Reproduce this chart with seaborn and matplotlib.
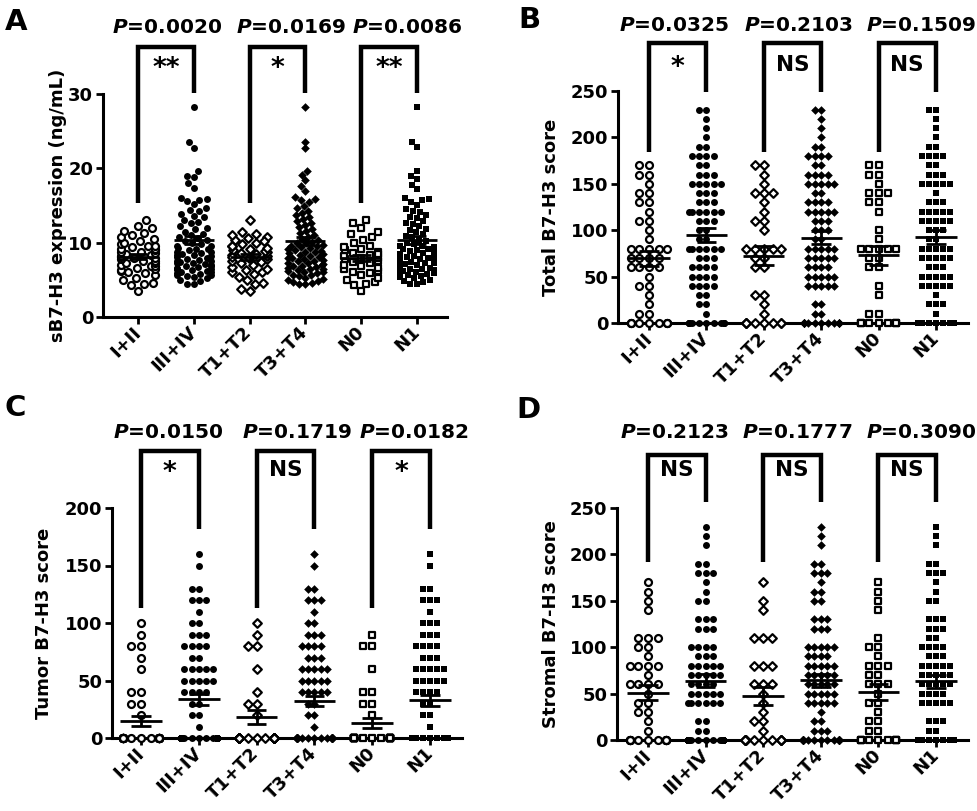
## Manage imports
import warnings

warnings.filterwarnings('ignore')

import numpy as np
import pandas as pd
import matplotlib as mpl

mpl.use('Agg')
import matplotlib.pyplot as plt
import seaborn as sns
from matplotlib.transforms import blended_transform_factory

## Data
groups = ['I+II', 'III+IV', 'T1+T2', 'T3+T4', 'N0', 'N1']

# A: serum sB7-H3 (ng/mL), one value per patient
a_I_II = [3.5, 4.3, 4.5, 4.6, 5.0, 5.3, 5.6, 5.9, 6.0, 6.2, 6.3, 6.5, 6.6, 6.8, 6.9, 7.0,
          7.2, 7.3, 7.5, 7.6, 7.8, 7.9, 8.0, 8.1, 8.2, 8.3, 8.5, 8.6, 8.7, 8.8, 9.0, 9.1,
          9.2, 9.4, 9.5, 9.6, 9.8, 10.0, 10.2, 10.5, 10.7, 11.0, 11.3, 11.6, 12.0, 12.3, 13.0]
a_III_IV = [28.2, 23.5, 22.8, 19.6, 19.0, 18.8, 18.0, 17.4, 16.0, 15.9, 15.8, 15.6, 15.2, 14.6,
            14.4, 14.2, 13.8, 13.6, 13.4, 13.0, 12.8, 12.6, 12.2, 12.0, 11.8, 11.5, 11.2, 11.0,
            10.8, 10.6, 10.4, 10.2, 10.0, 9.8, 9.6, 9.5, 9.3, 9.1, 9.0, 8.8, 8.6, 8.5, 8.3, 8.1,
            8.0, 7.8, 7.6, 7.4, 7.2, 7.0, 6.8, 6.6, 6.4, 6.2, 6.0, 5.8, 5.6, 5.4, 5.0, 4.8, 4.5,
            4.4, 6.1, 6.5, 7.1, 5.2, 5.5, 5.9, 6.3, 6.7, 6.9, 7.3, 7.7, 8.2, 8.7, 5.7, 6.4, 7.5,
            8.4, 9.2]
a_T1_T2 = [3.5, 3.8, 4.4, 4.6, 5.0, 5.4, 5.8, 6.0, 6.1, 6.3, 6.5, 6.7, 7.0, 7.2, 7.4, 7.6, 7.8,
           8.0, 8.2, 8.3, 8.5, 8.7, 8.9, 9.0, 9.2, 9.5, 9.8, 10.0, 10.4, 10.8, 11.0, 11.4, 13.0,
           8.1, 9.6, 10.2, 11.2, 8.6, 9.3, 10.6]
a_T3_T4 = [28.2, 23.6, 22.7, 19.6, 19.1, 18.4, 17.6, 17.0, 16.1, 15.9, 15.7, 15.5, 15.0, 14.6,
           14.3, 14.0, 13.7, 13.5, 13.2, 12.9, 12.7, 12.4, 12.1, 11.9, 11.6, 11.3, 11.0, 10.8,
           10.5, 10.3, 10.1, 9.9, 9.7, 9.5, 9.3, 9.1, 8.9, 8.7, 8.5, 8.4, 8.2, 8.0, 7.9, 7.7,
           7.5, 7.3, 7.1, 6.9, 6.7, 6.5, 6.3, 6.1, 5.9, 5.7, 5.5, 5.3, 5.1, 4.9, 4.7, 4.5, 4.4,
           6.0, 6.4, 6.8, 7.2, 7.6, 8.1, 8.6, 9.0, 9.6, 5.6, 6.2, 7.0, 7.8, 8.8, 9.4, 10.0, 4.6,
           5.0, 6.6]
a_N0 = [3.5, 4.3, 4.5, 4.7, 5.2, 5.6, 5.9, 6.0, 6.2, 6.5, 6.8, 7.0, 7.2, 7.4, 7.6, 7.8, 8.0,
        8.2, 8.4, 8.6, 8.8, 9.0, 9.2, 9.4, 9.6, 10.0, 10.4, 10.8, 11.1, 11.4, 12.0, 12.6, 13.0,
        5.0, 6.6, 7.9, 8.5]
a_N1 = [28.2, 23.5, 22.9, 19.6, 19.0, 18.6, 17.8, 17.2, 16.0, 15.9, 15.7, 15.5, 15.1, 14.5,
        14.3, 14.1, 13.7, 13.5, 13.3, 12.9, 12.7, 12.5, 12.2, 11.9, 11.7, 11.4, 11.1, 10.9,
        10.7, 10.4, 10.2, 10.0, 9.8, 9.6, 9.4, 9.2, 9.0, 8.8, 8.6, 8.4, 8.2, 8.0, 7.8, 7.6,
        7.4, 7.2, 7.0, 6.8, 6.6, 6.4, 6.2, 6.0, 5.8, 5.6, 5.4, 5.2, 5.0, 4.8, 4.5, 4.4, 6.1,
        6.5, 7.1, 7.5, 8.1, 8.5, 9.1, 9.5, 5.5, 6.3, 6.9, 7.7, 8.3, 8.9, 4.7, 5.9, 7.3]

# B-D: IHC scores take discrete levels; counts of patients at each level
b_levels = [0, 10, 20, 30, 40, 50, 60, 70, 80, 90, 100, 110, 120, 130, 140, 150,
            160, 170, 180, 190, 200, 210, 220, 230]
b_counts = [
    [9, 2, 1, 1, 2, 1, 4, 4, 5, 1, 1, 2, 1, 2, 2, 1, 2, 2, 0, 0, 0, 0, 0, 0],
    [12, 1, 2, 2, 4, 4, 4, 3, 6, 2, 2, 3, 6, 3, 3, 5, 3, 2, 4, 2, 1, 1, 1, 2],
    [8, 1, 1, 2, 0, 0, 2, 2, 5, 0, 1, 2, 1, 1, 3, 1, 1, 2, 0, 0, 0, 0, 0, 0],
    [14, 2, 2, 0, 5, 5, 4, 5, 5, 2, 3, 3, 5, 4, 2, 5, 4, 2, 4, 2, 1, 1, 1, 2],
    [9, 2, 0, 1, 1, 0, 2, 2, 5, 1, 1, 0, 1, 2, 3, 1, 2, 2, 0, 0, 0, 0, 0, 0],
    [12, 1, 3, 1, 5, 5, 3, 5, 5, 2, 3, 5, 5, 3, 1, 5, 3, 2, 4, 2, 1, 1, 1, 2],
]
c_levels = [0, 10, 20, 30, 40, 50, 60, 70, 80, 90, 100, 110, 120, 130, 140, 150, 160]
c_counts = [
    [32, 0, 1, 2, 2, 0, 1, 1, 2, 1, 1, 0, 0, 0, 0, 0, 0],
    [45, 1, 2, 2, 4, 5, 5, 2, 4, 3, 2, 1, 3, 2, 0, 1, 1],
    [20, 0, 1, 2, 1, 0, 1, 0, 2, 1, 1, 0, 0, 0, 0, 0, 0],
    [50, 1, 2, 2, 5, 5, 5, 3, 4, 3, 2, 1, 3, 2, 0, 1, 1],
    [27, 0, 1, 2, 2, 0, 1, 0, 2, 1, 0, 0, 0, 0, 0, 0, 0],
    [50, 1, 2, 2, 4, 5, 5, 3, 4, 3, 3, 1, 3, 2, 0, 1, 1],
]
d_levels = b_levels
d_counts = [
    [15, 1, 1, 2, 2, 1, 4, 1, 4, 1, 2, 3, 0, 0, 1, 1, 1, 1, 0, 0, 0, 0, 0, 0],
    [27, 2, 2, 0, 6, 5, 4, 5, 5, 3, 4, 0, 3, 3, 0, 2, 1, 1, 3, 2, 0, 1, 1, 1],
    [11, 1, 2, 1, 1, 1, 3, 0, 3, 0, 0, 3, 0, 0, 1, 1, 0, 1, 0, 0, 0, 0, 0, 0],
    [28, 3, 2, 1, 5, 5, 5, 5, 5, 4, 5, 0, 3, 3, 0, 2, 2, 1, 3, 2, 0, 1, 1, 1],
    [11, 2, 2, 1, 2, 1, 3, 2, 3, 1, 2, 1, 0, 0, 1, 1, 1, 1, 0, 0, 0, 0, 0, 0],
    [29, 2, 3, 0, 5, 4, 5, 5, 5, 3, 4, 2, 3, 3, 0, 2, 1, 1, 3, 2, 0, 1, 1, 1],
]

p_a = ['0.0020', '0.0169', '0.0086']
p_b = ['0.0325', '0.2103', '0.1509']
p_c = ['0.0150', '0.1719', '0.0182']
p_d = ['0.2123', '0.1777', '0.3090']
sig_a = ['**', '*', '**']
sig_b = ['*', 'NS', 'NS']
sig_c = ['*', 'NS', '*']
sig_d = ['NS', 'NS', 'NS']

## Style
sns.set_style('ticks')
plt.rcParams['font.family'] = ['DejaVu Sans']
plt.rcParams['font.weight'] = 'bold'
plt.rcParams['axes.labelweight'] = 'bold'
for key in ['text.color', 'axes.labelcolor', 'xtick.color', 'ytick.color', 'axes.edgecolor']:
    plt.rcParams[key] = 'black'
plt.rcParams['mathtext.fontset'] = 'custom'
plt.rcParams['mathtext.it'] = 'DejaVu Sans:italic:bold'
plt.rcParams['mathtext.rm'] = 'DejaVu Sans:bold'

W, H = 978, 811
STEP = 1.3  # group spacing in data units -> swarm half-width 0.4 / 1.3 of spacing
markers = ['o', 'o', 'D', 'D', 's', 's']
filled = [False, True, False, True, False, True]
msize = {'o': 5.0, 'D': 4.4, 's': 4.7}


def expand(levels, counts):
    return [np.repeat(levels, c).astype(float) for c in counts]


panels = [
    dict(letter='A', lab=(16, 22), data=[np.array(v) for v in
                                         [a_I_II, a_III_IV, a_T1_T2, a_T3_T4, a_N0, a_N1]],
         ylabel='sB7-H3 expression (ng/mL)', yticks=[0, 10, 20, 30],
         px=(103, 447, 138, 417, 317, 94, 30), ylim=(-1, 42), ylab_off=-36,
         legs=(15.3, 30.1), top=36.3, p_y=39.0, s_y=33.8, p_x=[0.52, 2.74, 4.82],
         pv=p_a, sig=sig_a),
    dict(letter='B', lab=(529, 20), data=expand(b_levels, b_counts),
         ylabel='Total B7-H3 score', yticks=[0, 50, 100, 150, 200, 250],
         px=(618, 968, 649, 936, 323, 91, 250), ylim=(-8, 340), ylab_off=-58,
         legs=(184, 249), top=301.7, p_y=321, s_y=278, p_x=[0.44, 2.60, 4.74],
         pv=p_b, sig=sig_b),
    dict(letter='C', lab=(15, 408), data=expand(c_levels, c_counts),
         ylabel='Tumor B7-H3 score', yticks=[0, 50, 100, 150, 200],
         px=(112, 462, 141, 430, 738, 508, 200), ylim=(-6, 280), ylab_off=-59,
         legs=(113, 182), top=250, p_y=266, s_y=233, p_x=[0.47, 2.70, 4.72],
         pv=p_c, sig=sig_c),
    dict(letter='D', lab=(528, 410), data=expand(d_levels, d_counts),
         ylabel='Stromal B7-H3 score', yticks=[0, 50, 100, 150, 200, 250],
         px=(617, 968, 648, 936, 740, 508, 250), ylim=(-8, 345), ylab_off=-57,
         legs=(192, 256), top=307, p_y=331, s_y=291, p_x=[0.45, 2.60, 4.74],
         pv=p_d, sig=sig_d),
]

fig = plt.figure(figsize=(W / 100, H / 100), dpi=100)

for pnl in panels:
    left, right, c0, c5, y0, yt, ytv = pnl['px']
    lo, hi = pnl['ylim']
    xs = (c5 - c0) / 5
    ys = (y0 - yt) / ytv
    top_px = y0 - hi * ys
    bot_px = y0 - lo * ys
    ax = fig.add_axes([left / W, 1 - bot_px / H, (right - left) / W, (bot_px - top_px) / H])
    pos = [i * STEP for i in range(len(groups))]

    for i, g in enumerate(groups):
        vals = pnl['data'][i]
        df = pd.DataFrame({'pos': [pos[i]] * len(vals), 'value': vals})
        if filled[i]:
            kw = dict(color='black', edgecolor='black', linewidth=0)
        else:
            kw = dict(color='white', edgecolor='black', linewidth=1.6)
        sns.swarmplot(data=df, x='pos', y='value', orient='x', native_scale=True,
                      marker=markers[i], size=msize[markers[i]], ax=ax, zorder=3,
                      clip_on=False, **kw)

        # mean +/- SEM
        m = np.mean(vals)
        se = np.std(vals, ddof=1) / np.sqrt(len(vals))
        ax.hlines(m, pos[i] - 0.36 * STEP, pos[i] + 0.36 * STEP, color='black', lw=2, zorder=5)
        ax.hlines([m - se, m + se], pos[i] - 0.17 * STEP, pos[i] + 0.17 * STEP,
                  color='black', lw=2, zorder=5)
        ax.vlines(pos[i], m - se, m + se, color='black', lw=2, zorder=5)

    ax.set_xlim((left - c0) / xs * STEP, (right - c0) / xs * STEP)
    ax.set_ylim(lo, hi)
    ax.set_xlabel('')
    ax.set_ylabel(pnl['ylabel'], fontsize=13)
    ax.yaxis.set_label_coords(pnl['ylab_off'] / (right - left), pnl['yticks'][-1] / 2,
                              transform=blended_transform_factory(ax.transAxes, ax.transData))
    for s in ['top', 'right']:
        ax.spines[s].set_visible(False)
    ax.spines['bottom'].set_position(('data', 0))
    ax.spines['left'].set_bounds(0, pnl['yticks'][-1])
    ax.spines['left'].set_linewidth(2.2)
    ax.spines['bottom'].set_linewidth(2.2)
    ax.set_yticks(pnl['yticks'])
    ax.set_xticks(pos)
    ax.set_xticklabels(groups, rotation=45, ha='right', va='center', rotation_mode='anchor')
    ax.tick_params(width=2, length=5, labelsize=13, pad=2)
    ax.tick_params(axis='x', pad=4)

    # significance brackets
    for k in range(3):
        x0, x1 = pos[2 * k], pos[2 * k + 1]
        ax.plot([x0, x0, x1, x1], [pnl['legs'][0], pnl['top'], pnl['top'], pnl['legs'][1]],
                color='black', lw=3.2, clip_on=False, solid_joinstyle='miter',
                solid_capstyle='butt', zorder=4)
        ax.text(pnl['p_x'][k] * STEP, pnl['p_y'], '$P$=' + pnl['pv'][k], ha='center',
                va='center', fontsize=14.5, fontweight='bold')
        sig = pnl['sig'][k]
        xm = (x0 + x1) / 2
        if sig == 'NS':
            ax.text(xm, pnl['s_y'], sig, ha='center', va='center', fontsize=15.5,
                    fontweight='bold')
        else:
            ax.text(xm, pnl['s_y'], sig, ha='center', va='center_baseline', fontsize=19,
                    fontweight='bold')

    fig.text(pnl['lab'][0] / W, 1 - pnl['lab'][1] / H, pnl['letter'], ha='center',
             va='center', fontsize=21, fontweight='bold')

fig.savefig('out.png', dpi=100)
